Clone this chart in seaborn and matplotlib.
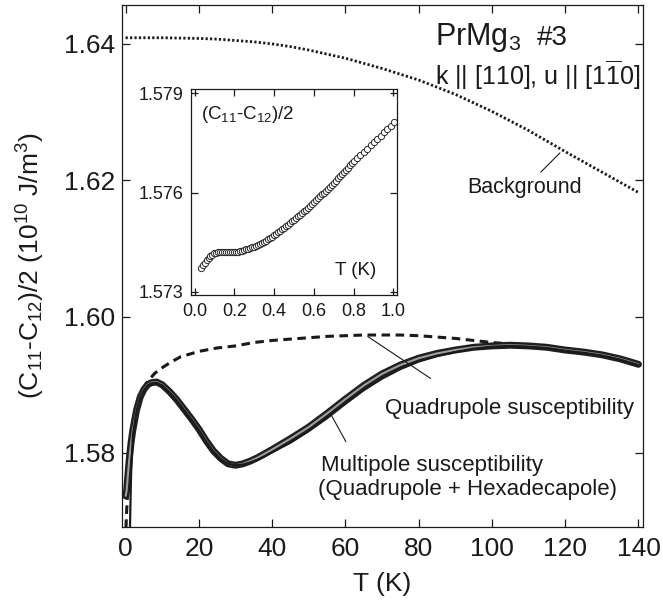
import matplotlib
matplotlib.use('Agg')
import matplotlib.pyplot as plt
import seaborn as sns

# background (dotted)
T_bg = [0, 10, 20, 25, 30, 35, 40, 45, 50, 55, 60, 70, 80, 90, 100, 110, 120, 130, 140]
C_bg = [1.6409, 1.6409, 1.6408, 1.6407, 1.6405, 1.6403, 1.6400, 1.6396, 1.6391,
        1.6385, 1.6379, 1.6364, 1.6347, 1.6326, 1.6301, 1.6273, 1.6242, 1.6212,
        1.6182]

# measured data
T_data = [0.03, 0.3, 0.6, 1.0, 1.5, 2.0, 3.0, 4.0, 5.0, 6.0, 7.0, 8.5, 10, 12, 14,
          16, 18, 20, 22, 24, 26, 28, 30, 32, 34, 36, 38, 40, 45, 50, 55, 60,
          65, 70, 75, 80, 85, 90, 95, 100, 105, 110, 115, 120, 125, 130, 135, 140]
C_data = [1.5737, 1.5745, 1.5765, 1.5790, 1.5815, 1.5834, 1.5863, 1.5882, 1.5893,
          1.5900, 1.5903, 1.5904, 1.5900, 1.5890, 1.5878, 1.5864, 1.5850, 1.5835,
          1.5818, 1.5803, 1.5792, 1.5784, 1.5782, 1.5784, 1.5788, 1.5793, 1.5799,
          1.5805, 1.5821, 1.5838, 1.5858, 1.5879, 1.5899, 1.5916, 1.5929, 1.5939,
          1.5946, 1.5951, 1.5955, 1.5957, 1.5958, 1.5957, 1.5955, 1.5951, 1.5948,
          1.5944, 1.5938, 1.5930]

# multipole susceptibility fit (solid)
T_multi = [1.2, 1.5, 2.0, 3.0, 4.0, 5.0, 6.0, 7.0, 8.5, 10, 12, 14, 16, 18, 20,
           22, 24, 26, 28, 30, 32, 34, 36, 38, 40, 45, 50, 55, 60, 65, 70, 75,
           80, 85, 90, 95, 100, 105, 110, 115, 120, 125, 130, 135, 140]
C_multi = [1.5690, 1.5768, 1.5826, 1.5862, 1.5881, 1.5892, 1.5899, 1.5902, 1.5903,
           1.5899, 1.5889, 1.5877, 1.5863, 1.5849, 1.5834, 1.5817, 1.5802, 1.5791,
           1.5784, 1.5782, 1.5783, 1.5786, 1.5790, 1.5795, 1.5801, 1.5815, 1.5832,
           1.5851, 1.5872, 1.5892, 1.5909, 1.5923, 1.5934, 1.5942, 1.5948, 1.5953,
           1.5956, 1.5957, 1.5956, 1.5954, 1.5950, 1.5947, 1.5943, 1.5937, 1.5929]

# quadrupole susceptibility fit (dashed)
T_quad = [0.1, 0.3, 0.6, 1.0, 1.5, 2.0, 3.0, 4.0, 5.0, 6.0, 8.0, 10, 12, 15, 20,
          25, 30, 35, 40, 45, 50, 55, 60, 65, 70, 75, 80, 85, 90, 95, 100, 105,
          110, 115, 120, 125, 130, 135, 140]
C_quad = [1.5690, 1.5715, 1.5745, 1.5772, 1.5798, 1.5822, 1.5860, 1.5882, 1.5895,
          1.5905, 1.5917, 1.5925, 1.5932, 1.5941, 1.5949, 1.5954, 1.5957, 1.5962,
          1.5965, 1.5967, 1.5969, 1.5971, 1.5972, 1.5973, 1.5973, 1.5973, 1.5972,
          1.5970, 1.5968, 1.5965, 1.5962, 1.5960, 1.5957, 1.5954, 1.5950, 1.5947,
          1.5942, 1.5937, 1.5930]

# inset: low temperature data
T_low = [0.03, 0.04, 0.05, 0.06, 0.07, 0.08, 0.09, 0.10, 0.11, 0.12, 0.13, 0.14,
         0.15, 0.16, 0.17, 0.18, 0.19, 0.20, 0.21, 0.22, 0.23, 0.24, 0.25, 0.26,
         0.27, 0.28, 0.29, 0.30, 0.31, 0.32, 0.33, 0.34, 0.35, 0.36, 0.37, 0.38,
         0.39, 0.40, 0.41, 0.42, 0.43, 0.44, 0.45, 0.46, 0.47, 0.48, 0.49, 0.50,
         0.51, 0.52, 0.53, 0.54, 0.55, 0.56, 0.57, 0.58, 0.59, 0.60, 0.61, 0.62,
         0.63, 0.64, 0.65, 0.66, 0.67, 0.68, 0.69, 0.70, 0.71, 0.72, 0.73, 0.74,
         0.75, 0.76, 0.77, 0.78, 0.79, 0.80,
         0.817, 0.834, 0.851, 0.868, 0.885, 0.902, 0.919, 0.936, 0.953, 0.970,
         0.987, 1.004]
C_low = [1.57372, 1.57380, 1.57388, 1.57395, 1.57402, 1.57407, 1.57412, 1.57416,
         1.57418, 1.57420, 1.57421, 1.57421, 1.57421, 1.57421, 1.57420, 1.57420,
         1.57420, 1.57420, 1.57420, 1.57421, 1.57422, 1.57424, 1.57426, 1.57428,
         1.57430, 1.57432, 1.57434, 1.57436, 1.57438, 1.57441, 1.57444, 1.57447,
         1.57450, 1.57454, 1.57458, 1.57462, 1.57466, 1.57471, 1.57475, 1.57480,
         1.57484, 1.57489, 1.57493, 1.57498, 1.57503, 1.57508, 1.57513, 1.57518,
         1.57523, 1.57528, 1.57533, 1.57538, 1.57543, 1.57548, 1.57553, 1.57559,
         1.57564, 1.57570, 1.57576, 1.57582, 1.57588, 1.57594, 1.57600, 1.57606,
         1.57612, 1.57618, 1.57624, 1.57630, 1.57636, 1.57643, 1.57649, 1.57656,
         1.57662, 1.57669, 1.57675, 1.57682, 1.57688, 1.57695,
         1.57705, 1.57714, 1.57724, 1.57733, 1.57743, 1.57752, 1.57762, 1.57772,
         1.57782, 1.57792, 1.57802, 1.57812]

sns.set_theme(style='ticks')
plt.rcParams['font.family'] = ['Liberation Sans', 'DejaVu Sans']
plt.rcParams['mathtext.fontset'] = 'custom'
plt.rcParams['mathtext.rm'] = 'Liberation Sans'
plt.rcParams['mathtext.it'] = 'Liberation Sans:italic'
plt.rcParams['mathtext.default'] = 'regular'
plt.rcParams['axes.linewidth'] = 0.9
for key in ['text.color', 'axes.labelcolor', 'axes.edgecolor', 'xtick.color', 'ytick.color']:
    plt.rcParams[key] = 'k'

fig = plt.figure(figsize=(6.63, 6.06), dpi=100)
ax = fig.add_axes([0.1833, 0.1299, 0.7858, 0.8618])

# background
sns.lineplot(x=T_bg, y=C_bg, ax=ax, color='k', lw=2.0, linestyle=(0, (0.8, 0.8)))
# quadrupole fit
sns.lineplot(x=T_quad, y=C_quad, ax=ax, color='k', lw=2.2, linestyle=(0, (2.8, 1.8)))
# data: densely packed circles, drawn as a dark band with a light core
sns.lineplot(x=T_data, y=C_data, ax=ax, color='0.12', lw=5.0, solid_capstyle='round')
sns.lineplot(x=T_data, y=C_data, ax=ax, color='0.62', lw=1.5)
# multipole fit
sns.lineplot(x=T_multi, y=C_multi, ax=ax, color='k', lw=1.6)

ax.set_xlim(-1.1, 141.1)
ax.set_ylim(1.5691, 1.6457)
ax.set_xticks(range(0, 141, 20))
ax.set_yticks([1.58, 1.60, 1.62, 1.64])
ax.set_yticklabels(['1.58', '1.60', '1.62', '1.64'])
ax.tick_params(direction='in', length=5.5, width=0.9, top=True, right=True,
               labelsize=19)
ax.tick_params(axis='x', pad=7)
ax.tick_params(axis='y', pad=4.5)
ax.set_xlabel('T (K)', fontsize=19, labelpad=8)
ax.set_ylabel(r'(C$_{11}$-C$_{12}$)/2 (10$^{10}$ J/m$^3$)', fontsize=19, labelpad=12)

# labels and pointers
ax.text(84.5, 1.63985, r'PrMg$_3$', fontsize=22, va='baseline', ha='left')
ax.text(112.2, 1.63985, '#3', fontsize=20, va='baseline', ha='left')
ax.text(84.5, 1.6340, r'k || [110], u || [1$\overline{1}$0]', fontsize=18,
        va='baseline', ha='left')

ax.text(93.3, 1.6189, 'Background', fontsize=15.5, va='center', ha='left')
ax.annotate('', xy=(119.1, 1.6243), xytext=(112.8, 1.6209),
            arrowprops=dict(arrowstyle='-', lw=0.8, color='k'))

ax.text(70.7, 1.58646, 'Quadrupole susceptibility', fontsize=16, va='center', ha='left')
ax.annotate('', xy=(65.5, 1.5973), xytext=(83.9, 1.5907),
            arrowprops=dict(arrowstyle='-', lw=0.8, color='k'))

ax.text(53.4, 1.5781, 'Multipole susceptibility', fontsize=16, va='center', ha='left')
ax.text(52.5, 1.57458, '(Quadrupole + Hexadecapole)', fontsize=16, va='center', ha='left')
ax.annotate('', xy=(55.7, 1.5860), xytext=(60.5, 1.5813),
            arrowprops=dict(arrowstyle='-', lw=0.8, color='k'))

# inset
ins = fig.add_axes([0.2881, 0.5132, 0.3112, 0.3399])
sns.lineplot(x=T_low, y=C_low, ax=ins, marker='o', linestyle='', color='k',
             markersize=4.5, markerfacecolor='white', markeredgecolor='0.15',
             markeredgewidth=0.7, estimator=None, sort=False)
ins.set_xlim(-0.018, 1.02)
ins.set_ylim(1.5729, 1.57913)
ins.set_xticks([0.0, 0.2, 0.4, 0.6, 0.8, 1.0])
ins.set_xticklabels(['0.0', '0.2', '0.4', '0.6', '0.8', '1.0'])
ins.set_yticks([1.573, 1.576, 1.579])
ins.set_yticklabels(['1.573', '1.576', '1.579'])
ins.tick_params(direction='in', length=5, width=0.9, top=True, right=True,
                labelsize=13)
ins.tick_params(axis='x', pad=6)
ins.tick_params(axis='y', pad=5.5)
ins.set_xlabel('')
ins.set_ylabel('')
ins.text(0.048, 0.874, r'(C$_{11}$-C$_{12}$)/2', transform=ins.transAxes,
         fontsize=13.5, va='center', ha='left')
ins.text(0.897, 0.121, 'T (K)', transform=ins.transAxes, fontsize=13.5,
         va='center', ha='right')

fig.savefig('out.png', dpi=100)
